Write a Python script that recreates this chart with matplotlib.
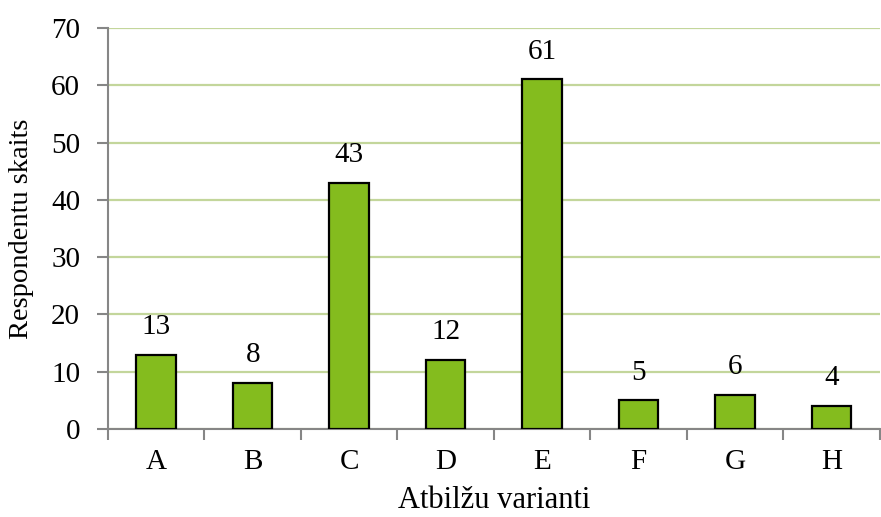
import numpy as np
import matplotlib.pyplot as plt

# data
categories = ['A', 'B', 'C', 'D', 'E', 'F', 'G', 'H']
counts = [13, 8, 43, 12, 61, 5, 6, 4]

plt.rcParams['font.family'] = ['Liberation Serif', 'DejaVu Serif']

fig = plt.figure(figsize=(8.81, 5.17), dpi=100)
ax = fig.add_axes([0.1226, 0.170, 0.876, 0.776])

x = np.arange(len(categories))
bars = ax.bar(x, counts, width=0.41, color='#84bc1e', edgecolor='black', linewidth=1.6, zorder=3)

for xi, v in zip(x, counts):
    ax.text(xi, v + 2.6, str(v), ha='center', va='bottom', fontsize=21)

ax.set_xlim(-0.5, len(categories) - 0.5)
ax.set_ylim(0, 70)
ax.set_yticks(np.arange(0, 71, 10))
ax.yaxis.grid(True, color='#c3d69b', linewidth=1.6, zorder=0)

ax.set_xticks(x)
ax.set_xticklabels(categories)
ax.set_xticks(np.arange(-0.5, len(categories), 1), minor=True)
ax.tick_params(axis='x', which='major', length=0, pad=14, labelsize=21)
ax.tick_params(axis='x', which='minor', length=8, width=1.5, color='#868686')
ax.tick_params(axis='y', length=8, width=1.5, color='#868686', labelsize=21, pad=12)

for s in ['top', 'right']:
    ax.spines[s].set_visible(False)
for s in ['left', 'bottom']:
    ax.spines[s].set_color('#868686')
    ax.spines[s].set_linewidth(1.5)

ax.set_xlabel('Atbilžu varianti', fontsize=22, labelpad=8)
ax.set_ylabel('Respondentu skaits', fontsize=20.5, labelpad=12)

plt.savefig('out.png', dpi=100)
